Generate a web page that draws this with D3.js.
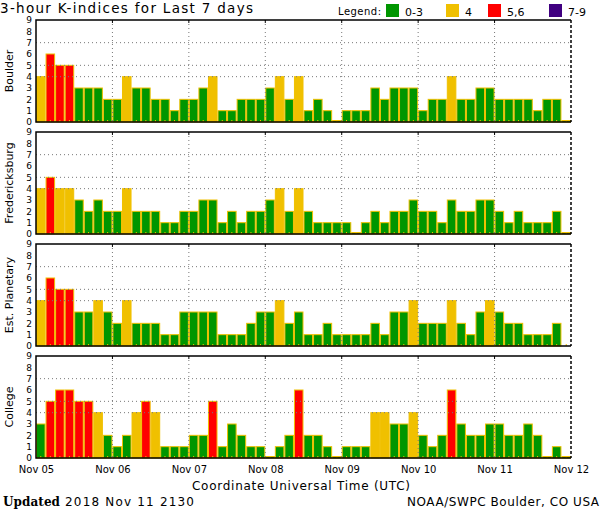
<!DOCTYPE html>
<html>
<head>
<meta charset="utf-8">
<script src="https://cdn.jsdelivr.net/npm/d3@7.9.0/dist/d3.min.js"></script>
<style>
  body { margin: 0; background: #fff; }
  svg { display: block; font-family: "DejaVu Sans", sans-serif; }
</style>
</head>
<body>
<svg id="chart" width="600" height="510"></svg>
<script>
// 3-hour K-index values, 8 per day, Nov 05 .. Nov 11 (null = no data)
const boulder = [4,6,5,5,3,3,3,2, 2,4,3,3,2,2,1,2, 2,3,4,1,1,2,2,2, 3,4,2,4,1,2,1,0,
                 1,1,1,3,2,3,3,3, 1,2,2,4,2,2,3,3, 2,2,2,2,1,2,2,0]
const fredericksburg = [4,5,4,4,3,2,3,2, 2,4,2,2,2,1,1,2, 2,3,3,1,2,1,2,2, 3,4,2,4,2,1,1,1,
                        1,0,1,2,1,2,2,3, 2,2,1,3,2,2,3,3, 2,1,2,1,1,1,2,0]
const estPlanetary = [4,6,5,5,3,3,4,3, 2,4,2,2,2,1,1,3, 3,3,3,1,1,1,2,3, 3,4,2,3,1,1,2,1,
                      1,1,1,2,1,3,3,4, 2,2,2,4,2,1,3,4, 3,2,2,1,1,1,2,null]
const college = [3,5,6,6,5,5,4,2, 1,2,4,5,4,1,1,1, 2,2,5,1,3,2,1,1, 0,1,2,6,2,2,1,0,
                 1,1,1,4,4,3,3,4, 2,1,2,6,3,2,2,3, 3,2,2,3,2,0,1,0]

const stations = ['Boulder', 'Fredericksburg', 'Est. Planetary', 'College']
const series = [boulder, fredericksburg, estPlanetary, college]
const dayLabels = ['Nov 05', 'Nov 06', 'Nov 07', 'Nov 08', 'Nov 09', 'Nov 10', 'Nov 11', 'Nov 12']
const legendLabels = ['0-3', '4', '5,6', '7-9']
const legendColors = ['#009600', '#f0c000', '#ff0000', '#400080']

const svg = d3.select('#chart')

const left = 36, right = 571
const panelTop = [20, 132, 244, 356]
const panelH = 102

let x = d3.scaleLinear().domain([0, 56]).range([left, right])
const bw = x(1) - x(0)

function colorFor(v) {
    if (v <= 3) return legendColors[0]
    if (v === 4) return legendColors[1]
    if (v <= 6) return legendColors[2]
    return legendColors[3]
}

// title + legend
svg.append('text').attr('x', 0).attr('y', 13)
    .attr('font-size', 13.5).attr('textLength', 253)
    .text('3-hour K-indices for Last 7 days')
svg.append('text').attr('x', 338).attr('y', 15)
    .attr('font-size', 10).attr('textLength', 43)
    .text('Legend:')
let legendX = [386, 446, 488, 549]
legendLabels.forEach((lab, i) => {
    svg.append('rect').attr('x', legendX[i]).attr('y', 4)
        .attr('width', 13).attr('height', 13).attr('fill', legendColors[i])
    svg.append('text').attr('x', legendX[i] + 19).attr('y', 16)
        .attr('font-size', 11).text(lab)
})

series.forEach((data, p) => {
    let top = panelTop[p]
    let y = d3.scaleLinear().domain([0, 9]).range([top + panelH, top])
    let g = svg.append('g')

    // bars
    g.selectAll('rect.bar')
        .data(data.map((v, i) => ({ v, i })).filter(d => d.v !== null))
        .join('rect')
        .attr('class', 'bar')
        .attr('x', d => x(d.i) + 0.5)
        .attr('width', bw - 1)
        .attr('y', d => d.v === 0 ? y(0) - 1.5 : y(d.v))
        .attr('height', d => d.v === 0 ? 1.5 : y(0) - y(d.v))
        .attr('fill', d => colorFor(d.v))
        .attr('stroke', '#f0c000')
        .attr('stroke-width', 1)

    // small 3-hour ticks at bottom
    g.selectAll('line.mt')
        .data(d3.range(56))
        .join('line')
        .attr('x1', i => x(i + 0.5)).attr('x2', i => x(i + 0.5))
        .attr('y1', y(0)).attr('y2', y(0) - 2)
        .attr('stroke', '#f0c000').attr('stroke-width', 1)

    // dotted grid
    ;[4, 5, 7].forEach(k => {
        g.append('line').attr('x1', left).attr('x2', right)
            .attr('y1', y(k)).attr('y2', y(k))
            .attr('stroke', '#777').attr('stroke-dasharray', '1,3')
    })
    d3.range(8, 56, 8).forEach(k => {
        g.append('line').attr('x1', x(k)).attr('x2', x(k))
            .attr('y1', top).attr('y2', y(0))
            .attr('stroke', '#777').attr('stroke-dasharray', '1,3')
        g.append('line').attr('x1', x(k)).attr('x2', x(k))
            .attr('y1', top).attr('y2', top + 3)
            .attr('stroke', '#000')
    })

    // frame
    g.append('path')
        .attr('d', `M${right},${top}H${left}V${y(0)}H${right}`)
        .attr('fill', 'none').attr('stroke', '#000').attr('stroke-width', 1.5)
    g.append('line').attr('x1', right).attr('x2', right)
        .attr('y1', top).attr('y2', y(0))
        .attr('stroke', '#000').attr('stroke-width', 1.5).attr('stroke-dasharray', '3,2')

    // y axis numbers
    let yAxis = d3.axisLeft(y).tickValues(d3.range(0, 10)).tickSize(0).tickPadding(4)
    let ya = g.append('g').attr('transform', `translate(${left},0)`).call(yAxis)
    ya.select('.domain').remove()
    ya.selectAll('text').attr('font-size', 9).attr('font-family', 'DejaVu Sans').attr('fill', '#000')

    // station label
    g.append('text')
        .attr('transform', `translate(13,${top + panelH / 2}) rotate(-90)`)
        .attr('text-anchor', 'middle')
        .attr('font-size', 11)
        .text(stations[p])
})

// x axis under last panel
let xAxis = d3.axisBottom(x).tickValues(d3.range(0, 57, 8))
    .tickFormat((d, i) => dayLabels[i]).tickSize(0).tickPadding(8)
let xa = svg.append('g').attr('transform', `translate(0,${panelTop[3] + panelH})`).call(xAxis)
xa.select('.domain').remove()
xa.selectAll('text').attr('font-size', 10).attr('font-family', 'DejaVu Sans').attr('fill', '#000')

svg.append('text').attr('x', 301).attr('y', 490)
    .attr('text-anchor', 'middle').attr('font-size', 12).attr('textLength', 218)
    .text('Coordinate Universal Time (UTC)')

svg.append('text').attr('x', 3).attr('y', 506)
    .attr('font-size', 12).attr('font-weight', 'bold')
    .attr('font-family', 'DejaVu Serif').attr('textLength', 57)
    .text('Updated')
svg.append('text').attr('x', 65).attr('y', 506)
    .attr('font-size', 12).attr('textLength', 129)
    .text('2018 Nov 11 2130')
svg.append('text').attr('x', 407).attr('y', 506)
    .attr('font-size', 12).attr('textLength', 192)
    .text('NOAA/SWPC Boulder, CO USA')
</script>
</body>
</html>
